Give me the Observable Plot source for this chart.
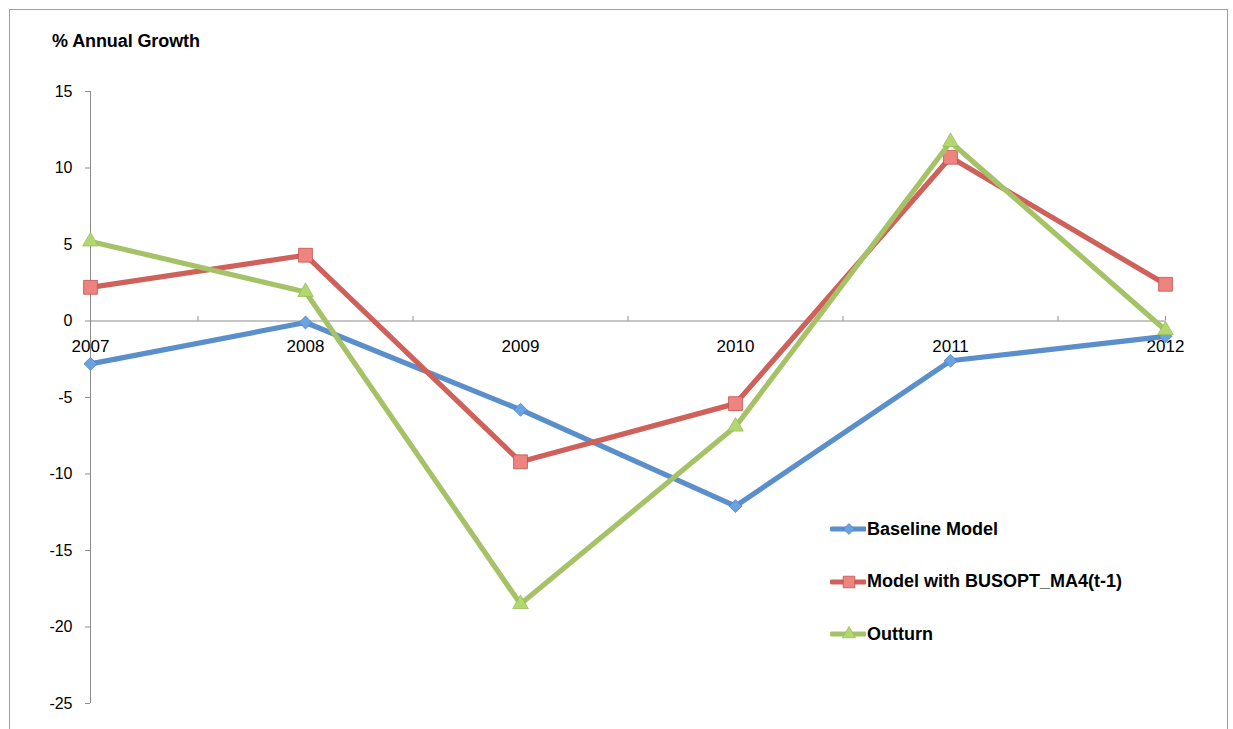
<!DOCTYPE html>
<html>
<head>
<meta charset="utf-8">
<script src="https://cdn.jsdelivr.net/npm/d3@7"></script>
<script src="https://cdn.jsdelivr.net/npm/@observablehq/plot@0.6"></script>
<style>
  html, body { margin: 0; padding: 0; background: #fff; }
  #wrap { position: relative; width: 1233px; height: 729px; overflow: hidden; font-family: "Liberation Sans", Arial, sans-serif; }
  #frame { position: absolute; left: 9px; top: 9px; width: 1219px; height: 740px; border: 1px solid #a0a0a0; box-sizing: border-box; pointer-events: none; }
  #title { position: absolute; left: 52px; top: 31px; font-weight: bold; font-size: 18px; color: #000; letter-spacing: -0.1px; }
  #legend { position: absolute; left: 830px; top: 516px; }
  .lg { display: flex; align-items: center; height: 26px; margin-bottom: 26.5px; font-weight: bold; font-size: 18px; color: #000; }
  .lg svg { display: block; margin-right: 1px; }
</style>
</head>
<body>
<div id="wrap">
  <div id="chart"></div>
  <div id="frame"></div>
  <div id="title">% Annual Growth</div>
  <div id="legend"></div>
</div>
<script>
const years = [2007, 2008, 2009, 2010, 2011, 2012];
const baseline = [-2.8, -0.1, -5.8, -12.1, -2.6, -1.0];
const modelBusopt = [2.2, 4.3, -9.2, -5.4, 10.7, 2.4];
const outturn = [5.2, 1.9, -18.5, -6.9, 11.7, -0.6];
const yTicks = [-25, -20, -15, -10, -5, 0, 5, 10, 15];
const seriesNames = ["Baseline Model", "Model with BUSOPT_MA4(t-1)", "Outturn"];

// a square diamond (rotated square), like the spreadsheet marker
const squareDiamond = {
  draw(ctx, size) {
    const h = Math.sqrt(size) / 2;
    ctx.moveTo(0, -h); ctx.lineTo(h, 0); ctx.lineTo(0, h); ctx.lineTo(-h, 0); ctx.closePath();
  }
};

const series = [
  {name: seriesNames[0], values: baseline, line: "#5a8fcb", fill: "#6aa3e3", stroke: "#4f80bc", symbol: squareDiamond, r: 7.3},
  {name: seriesNames[1], values: modelBusopt, line: "#d0605a", fill: "#ee8480", stroke: "#c4504b", symbol: d3.symbolSquare, r: 7.8},
  {name: seriesNames[2], values: outturn, line: "#a5c366", fill: "#b2d76e", stroke: "#9cbb5a", symbol: d3.symbolTriangle, r: 5.8}
];

const rows = series.map(s => years.map((yr, i) => ({year: yr, value: s.values[i], name: s.name})));
const mids = years.slice(0, -1).map((y, i) => (y + years[i + 1]) / 2).concat([years[years.length - 1]]);

const marks = [
  Plot.ruleX([years[0]], {y1: yTicks[0], y2: yTicks[yTicks.length - 1], stroke: "#8c8c8c", strokeWidth: 1}),
  Plot.ruleY([0], {x1: years[0], x2: years[years.length - 1], stroke: "#8c8c8c", strokeWidth: 1}),
  Plot.ruleX(mids, {x: d => d, y1: 0, y2: 0.3, stroke: "#8c8c8c", strokeWidth: 1}),
  Plot.axisY({ticks: yTicks, tickSize: 5, tickPadding: 13, label: null, stroke: "#8c8c8c", fontSize: 16, tickFormat: d => String(d)}),
  Plot.text(years, {x: d => d, y: 0, text: d => String(d), dy: 26, fontSize: 17, fill: "#000", lineAnchor: "middle"})
];
series.forEach((s, k) => {
  marks.push(Plot.line(rows[k], {x: "year", y: "value", stroke: s.line, strokeWidth: 5.2, strokeLinejoin: "miter", strokeLinecap: "butt"}));
  marks.push(Plot.dot(rows[k], {x: "year", y: "value", symbol: s.symbol, r: s.r, fill: s.fill, stroke: s.stroke, strokeWidth: 0.8}));
});

const chart = Plot.plot({
  width: 1233,
  height: 729,
  marginLeft: 90,
  marginRight: 68,
  marginTop: 91,
  marginBottom: 26,
  style: {fontFamily: "'Liberation Sans', Arial, sans-serif", fontSize: "16px", color: "#000", background: "transparent"},
  x: {type: "linear", domain: [years[0], years[years.length - 1]], axis: null},
  y: {domain: [yTicks[0], yTicks[yTicks.length - 1]], axis: null},
  marks
});
document.getElementById("chart").appendChild(chart);

// legend
const legend = document.getElementById("legend");
series.forEach(s => {
  const row = document.createElement("div");
  row.className = "lg";
  const sym = d3.create("svg").attr("width", 36).attr("height", 26);
  sym.append("line").attr("x1", 2).attr("x2", 35).attr("y1", 13).attr("y2", 13)
    .attr("stroke", s.line).attr("stroke-width", 5).attr("stroke-linecap", "round");
  sym.append("path").attr("d", d3.symbol(s.symbol, Math.PI * s.r * s.r * 0.7)())
    .attr("transform", "translate(19,13)").attr("fill", s.fill).attr("stroke", s.stroke).attr("stroke-width", 0.8);
  row.appendChild(sym.node());
  const t = document.createElement("span");
  t.textContent = s.name;
  row.appendChild(t);
  legend.appendChild(row);
});
</script>
</body>
</html>
